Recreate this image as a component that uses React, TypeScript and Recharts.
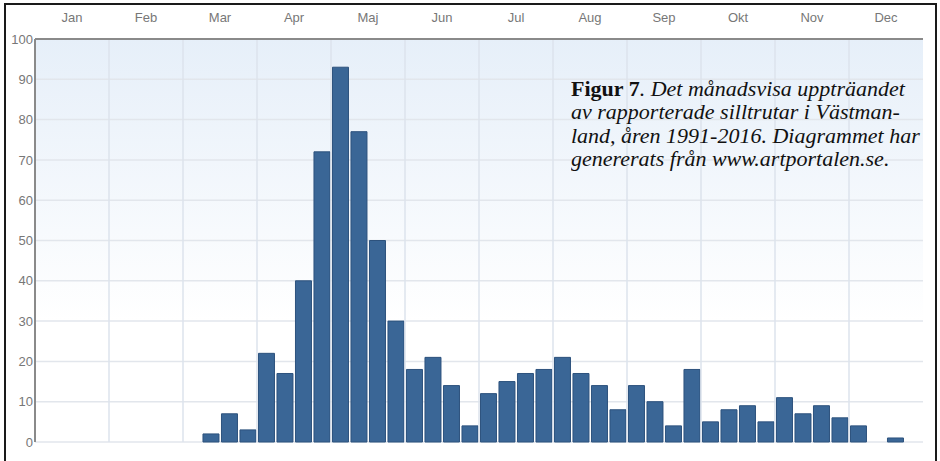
import React from 'react';
import { BarChart, Bar, XAxis, YAxis, CartesianGrid, ReferenceLine } from 'recharts';

// månader (övre axeln) och fyra veckoklasser per månad
const months = ['Jan', 'Feb', 'Mar', 'Apr', 'Maj', 'Jun', 'Jul', 'Aug', 'Sep', 'Okt', 'Nov', 'Dec'];
const counts = [
  0, 0, 0, 0,
  0, 0, 0, 0,
  0, 2, 7, 3,
  22, 17, 40, 72,
  93, 77, 50, 30,
  18, 21, 14, 4,
  12, 15, 17, 18,
  21, 17, 14, 8,
  14, 10, 4, 18,
  5, 8, 9, 5,
  11, 7, 9, 6,
  4, 0, 1, 0,
];
const yTicks = [0, 10, 20, 30, 40, 50, 60, 70, 80, 90, 100];
const monthTicks = months.map((_, i) => i + 0.5);
const monthBounds = months.slice(1).map((_, i) => i + 1);

const data = counts.map((v, i) => ({
  week: `${months[Math.floor(i / 4)]} ${(i % 4) + 1}`,
  pos: Math.floor(i / 4) + ((i % 4) + 0.5) / 4,
  antal: v,
}));

const axisLine = { stroke: '#8a8a8a', strokeWidth: 2 };
const tickStyle = { fontSize: 13, fill: '#777', fontFamily: '"Liberation Sans", Arial, sans-serif' };

export default function App() {
  return (
    <div style={{ position: 'absolute', left: 0, top: 0, width: 940, height: 461, background: '#fff', overflow: 'hidden' }}>
      <BarChart width={940} height={461} data={data} margin={{ top: 0, right: 17, bottom: 19, left: 0 }} barCategoryGap="8%">
        <defs>
          <linearGradient id="bg" x1="0" y1="0" x2="0" y2="1">
            <stop offset="0%" stopColor="#e6eff9" />
            <stop offset="70%" stopColor="#ffffff" />
          </linearGradient>
        </defs>
        <CartesianGrid vertical={false} stroke="#e2e6ec" strokeWidth={1.5} fill="url(#bg)" fillOpacity={1} />
        {monthBounds.map(b => (
          <ReferenceLine key={b} xAxisId="m" x={b} stroke="#dde3ec" strokeWidth={1.5} />
        ))}
        <XAxis xAxisId="w" dataKey="week" orientation="bottom" height={0} tick={false} tickLine={false} axisLine={axisLine} />
        <XAxis
          xAxisId="m"
          dataKey="pos"
          type="number"
          domain={[0, 12]}
          ticks={monthTicks}
          tickFormatter={(v: number) => months[Math.floor(v)]}
          orientation="top"
          height={39}
          tickSize={0}
          tickMargin={17}
          tickLine={false}
          axisLine={axisLine}
          tick={tickStyle}
          interval={0}
        />
        <YAxis
          domain={[0, 100]}
          ticks={yTicks}
          width={35}
          tickSize={0}
          tickMargin={2}
          tickLine={false}
          axisLine={axisLine}
          tick={tickStyle}
          interval={0}
        />
        <YAxis yAxisId="r" orientation="right" domain={[0, 100]} width={0} tick={false} tickLine={false} axisLine={axisLine} />
        <Bar xAxisId="w" dataKey="antal" fill="#3a6696" stroke="#2d527d" strokeWidth={1} isAnimationActive={false} />
      </BarChart>
      <div
        style={{
          position: 'absolute',
          left: 571,
          top: 78,
          fontFamily: '"Liberation Serif", "Times New Roman", serif',
          fontSize: 20,
          lineHeight: '23.3px',
          color: '#111',
          whiteSpace: 'nowrap',
          transform: 'scaleX(1.1)',
          transformOrigin: 'left top',
        }}
      >
        <div>
          <b>Figur 7</b>
          <i>. Det månadsvisa uppträandet</i>
        </div>
        <div><i>av rapporterade silltrutar i Västman-</i></div>
        <div><i>land, åren 1991-2016. Diagrammet har</i></div>
        <div><i>genererats från www.artportalen.se.</i></div>
      </div>
      <div style={{ position: 'absolute', left: 4, top: 3, width: 929, height: 480, border: '2px solid #1a1a1a' }} />
    </div>
  );
}
